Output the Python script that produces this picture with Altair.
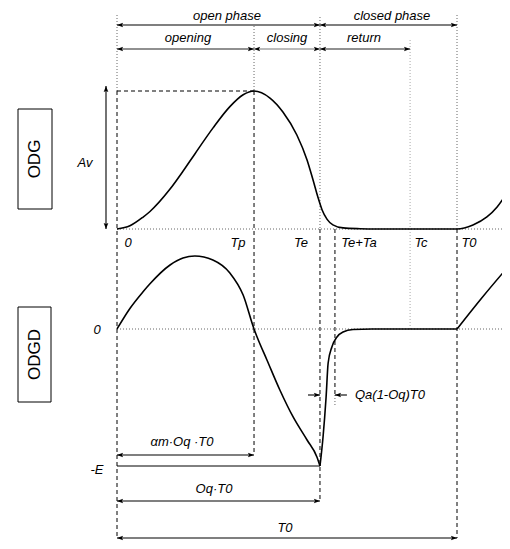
import altair as alt
import pandas as pd

# ---------------- values ----------------
# timing landmarks, in units of the period T0
T_P, T_E, T_ETA, T_C, T_0 = 0.403, 0.597, 0.641, 0.862, 1.0

# ODG (glottal flow) as fraction of Av
odg_t = [0.0, 0.038, 0.076, 0.097, 0.156, 0.194, 0.229, 0.282, 0.332, 0.371, 0.403,
         0.45, 0.488, 0.529, 0.559, 0.576, 0.591, 0.603, 0.618, 0.635, 0.665, 0.715, 0.76,
         1.0, 1.047, 1.088, 1.118, 1.147]
odg_v = [0.0, 0.023, 0.085, 0.127, 0.289, 0.418, 0.544, 0.731, 0.887, 0.973, 1.0,
         0.949, 0.848, 0.681, 0.50, 0.36, 0.23, 0.14, 0.07, 0.03, 0.008, 0.002, 0.0,
         0.0, 0.029, 0.087, 0.159, 0.261]

# ODGD (flow derivative) as fraction of E, three pieces (open phase, return, next period)
odgd_t_open = [0.0, 0.038, 0.076, 0.097, 0.156, 0.194, 0.229, 0.282, 0.332, 0.371, 0.403,
               0.412, 0.441, 0.479, 0.518, 0.559, 0.588, 0.597]
odgd_v_open = [0.0, 0.15, 0.27, 0.33, 0.467, 0.518, 0.533, 0.504, 0.409, 0.248, 0.0,
               -0.058, -0.226, -0.445, -0.642, -0.810, -0.934, -1.0]
odgd_t_ret = [0.597, 0.606, 0.615, 0.621, 0.632, 0.647, 0.665, 0.694, 0.75, 1.0]
odgd_v_ret = [-1.0, -0.788, -0.496, -0.248, -0.131, -0.058, -0.022, -0.004, 0.0, 0.0]
odgd_t_next = [1.0, 1.074, 1.147]
odgd_v_next = [0.0, 0.23, 0.445]

tick_labels = ["0", "Tp", "Te", "Te+Ta", "Tc", "T0"]

# ---------------- layout (page pixels) ----------------
PX = 340.0      # pixels per T0
X0 = 117.0      # page x of t = 0
def t_of(px):
    return (px - X0) / PX

ODG_BASE, ODG_H = 229, 138
ODGD_BASE, E_H = 329, 137
Y_PHASE, Y_SUB = 25, 49
Y_TICK = 243
Y_QA = 395
Y_AM, Y_OQ, Y_T0 = 455, 501, 538
Y_PEAK = ODG_BASE - ODG_H
Y_E = ODGD_BASE + E_H
X_END = t_of(512)

W, H = 494, 533
XS = alt.Scale(domain=[t_of(8), t_of(8 + W)], nice=False, zero=False)
YS = alt.Scale(domain=[8, 8 + H], reverse=True, nice=False, zero=False)

# ---------------- curves ----------------
rows = []
for t, v in zip(odg_t, odg_v):
    rows.append({"x": t, "y": ODG_BASE - v * ODG_H, "seg": "odg"})
for name, ts, vs in [("d1", odgd_t_open, odgd_v_open), ("d2", odgd_t_ret, odgd_v_ret),
                     ("d3", odgd_t_next, odgd_v_next)]:
    for t, v in zip(ts, vs):
        rows.append({"x": t, "y": ODGD_BASE - v * E_H, "seg": name})
curves = pd.DataFrame(rows)

# ---------------- guide segments ----------------
def seg(x, x2, y, y2, style):
    return {"x": x, "x2": x2, "y": y, "y2": y2, "style": style}

guides = pd.DataFrame([
    # vertical dotted (upper part)
    seg(0, 0, 15, Y_PEAK, "dot"),
    seg(T_P, T_P, 26, Y_PEAK, "dot"),
    seg(T_E, T_E, 17, ODG_BASE, "dot"),
    seg(T_C, T_C, 40, ODGD_BASE, "light"),
    seg(T_0, T_0, 15, ODG_BASE, "dot"),
    seg(T_ETA, T_ETA, Y_QA, Y_QA + 10, "dot"),
    # vertical dashed
    seg(0, 0, Y_PEAK, Y_T0, "dash"),
    seg(T_P, T_P, Y_PEAK, Y_AM, "dash"),
    seg(T_E, T_E, ODG_BASE, Y_OQ, "dash"),
    seg(T_ETA, T_ETA, ODG_BASE, Y_QA, "dash"),
    seg(T_0, T_0, ODG_BASE, Y_T0, "dash"),
    # horizontal
    seg(0, X_END, ODG_BASE, ODG_BASE, "dot"),
    seg(0, X_END, ODGD_BASE, ODGD_BASE, "dot"),
    seg(0, T_P, Y_PEAK, Y_PEAK, "dash"),
    seg(0, T_E, Y_E, Y_E, "solid"),
])

style_dom = ["dot", "light", "dash", "solid"]
style_dash = [[1, 2], [1, 2], [4, 3], [1, 0]]
style_col = ["#666666", "#aaaaaa", "#000000", "#000000"]

# ---------------- arrows ----------------
XA = t_of(106)
arrows = [
    (0, T_E, Y_PHASE, Y_PHASE, True, "#000000"),
    (T_E, T_0, Y_PHASE, Y_PHASE, True, "#000000"),
    (0, T_P, Y_SUB, Y_SUB, True, "#222222"),
    (T_P, T_E, Y_SUB, Y_SUB, True, "#777777"),
    (T_E, T_C, Y_SUB, Y_SUB, True, "#222222"),
    (0, T_P, Y_AM, Y_AM, True, "#000000"),
    (0, T_E, Y_OQ, Y_OQ, True, "#000000"),
    (0, T_0, Y_T0, Y_T0, True, "#000000"),
    (XA, XA, Y_PEAK - 5, ODG_BASE, True, "#000000"),
    (T_E - 12 / PX, T_E, Y_QA, Y_QA, False, "#000000"),
    (T_ETA + 12 / PX, T_ETA, Y_QA, Y_QA, False, "#000000"),
]
arrow_lines = pd.DataFrame([{"x": a, "x2": b, "y": c, "y2": d, "c": col}
                            for a, b, c, d, _, col in arrows])

heads = []
for a, b, c, d, both, col in arrows:
    if c == d:
        heads.append({"x": b, "y": d, "dir": "r" if b > a else "l"})
        if both:
            heads.append({"x": a, "y": c, "dir": "l" if b > a else "r"})
    else:
        heads.append({"x": a, "y": c, "dir": "u"})
        heads.append({"x": b, "y": d, "dir": "d"})
heads = pd.DataFrame(heads)

head_paths = [
    "M0,0L-1,-0.38L-0.8,0L-1,0.38Z",
    "M0,0L1,-0.38L0.8,0L1,0.38Z",
    "M0,0L-0.38,1L0,0.8L0.38,1Z",
    "M0,0L-0.38,-1L0,-0.8L0.38,-1Z",
]

# ---------------- text ----------------
lab = [
    ("open phase", t_of(227), 15.5),
    ("closed phase", t_of(392), 15.5),
    ("opening", t_of(188), 38),
    ("closing", t_of(287), 38),
    ("return", t_of(364), 38),
    (tick_labels[0], t_of(128), Y_TICK),
    (tick_labels[1], t_of(238), Y_TICK),
    (tick_labels[2], t_of(301), Y_TICK),
    (tick_labels[3], t_of(359), Y_TICK),
    (tick_labels[4], t_of(421), Y_TICK),
    (tick_labels[5], t_of(469), Y_TICK),
    ("Av", t_of(85), 163),
    ("0", t_of(97), ODGD_BASE + 1),
    ("-E", t_of(97), Y_E + 4),
    ("Qa(1-Oq)T0", t_of(390), Y_QA),
    ("αm·Oq ·T0", t_of(182), 442),
    ("Oq·T0", t_of(214), 489),
    ("T0", t_of(285), 528),
]
labels = pd.DataFrame([{"label": s, "x": x, "y": y} for s, x, y in lab])

boxes = pd.DataFrame([
    {"x": t_of(18), "x2": t_of(52), "y": 109, "y2": 209, "label": "ODG"},
    {"x": t_of(18), "x2": t_of(51), "y": 307, "y2": 402, "label": "ODGD"},
])
boxes["xc"] = (boxes["x"] + boxes["x2"]) / 2
boxes["yc"] = (boxes["y"] + boxes["y2"]) / 2

# ---------------- chart ----------------
X = lambda f="x": alt.X(f"{f}:Q", scale=XS, axis=None)
Y = lambda f="y": alt.Y(f"{f}:Q", scale=YS, axis=None)

guide_layer = alt.Chart(guides).mark_rule(strokeWidth=1).encode(
    x=X(), x2="x2:Q", y=Y(), y2="y2:Q",
    strokeDash=alt.StrokeDash("style:N", scale=alt.Scale(domain=style_dom, range=style_dash), legend=None),
    color=alt.Color("style:N", scale=alt.Scale(domain=style_dom, range=style_col), legend=None),
)

arrow_layer = alt.Chart(arrow_lines).mark_rule(strokeWidth=1.1).encode(
    x=X(), x2="x2:Q", y=Y(), y2="y2:Q",
    color=alt.Color("c:N", scale=None),
)

head_layer = alt.Chart(heads).mark_point(filled=True, size=150, opacity=1, color="black").encode(
    x=X(), y=Y(),
    shape=alt.Shape("dir:N", scale=alt.Scale(domain=["r", "l", "u", "d"], range=head_paths), legend=None),
)

curve_layer = alt.Chart(curves).mark_line(color="black", strokeWidth=1.6, interpolate="monotone").encode(
    x=X(), y=Y(), detail="seg:N", order="x:Q",
)

text_layer = alt.Chart(labels).mark_text(
    font="Liberation Sans", fontSize=13, fontStyle="italic", align="center", baseline="middle", color="black"
).encode(x=X(), y=Y(), text="label:N")

box_layer = alt.Chart(boxes).mark_rect(fill="white", fillOpacity=0, stroke="black", strokeWidth=1).encode(
    x=X(), x2="x2:Q", y=Y(), y2="y2:Q",
)
box_text = alt.Chart(boxes).mark_text(
    font="Liberation Sans", fontSize=17, angle=270, align="center", baseline="middle", color="black"
).encode(x=X("xc"), y=Y("yc"), text="label:N")

chart = alt.layer(
    guide_layer, arrow_layer, head_layer, curve_layer, text_layer, box_layer, box_text
).properties(
    width=W, height=H, padding=0, autosize=alt.AutoSizeParams(type="none"),
).configure_view(stroke=None)

chart.save("out.html", embed_options={"renderer": "svg", "actions": False})
